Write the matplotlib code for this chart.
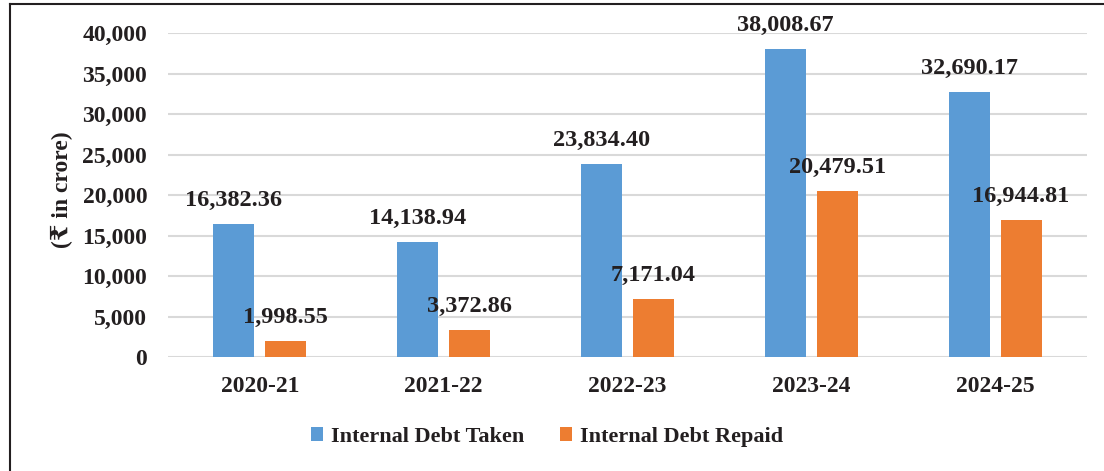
import numpy as np
import matplotlib
matplotlib.use('Agg')
import matplotlib.pyplot as plt
from matplotlib.lines import Line2D

years = ['2020-21', '2021-22', '2022-23', '2023-24', '2024-25']
debt_taken = [16382.36, 14138.94, 23834.40, 38008.67, 32690.17]
debt_repaid = [1998.55, 3372.86, 7171.04, 20479.51, 16944.81]

plt.rcParams['font.family'] = ['Liberation Serif', 'DejaVu Serif']
plt.rcParams['font.weight'] = 'bold'

fig = plt.figure(figsize=(11.04, 4.71), dpi=100)
ax = fig.add_axes([168 / 1104, 1 - 357 / 471, (1087 - 168) / 1104, (357 - 33) / 471])

x = np.arange(len(years))
w = 0.223
off = 0.1415
b1 = ax.bar(x - off, debt_taken, w, color='#5B9BD5', label='Internal Debt Taken', zorder=3)
b2 = ax.bar(x + off, debt_repaid, w, color='#ED7D31', label='Internal Debt Repaid', zorder=3)

for bars, vals in [(b1, debt_taken), (b2, debt_repaid)]:
    for rect, v in zip(bars, vals):
        ax.annotate(f'{v:,.2f}', (rect.get_x() + rect.get_width() / 2, v),
                    xytext=(0, 17), textcoords='offset points',
                    ha='center', va='center', fontsize=17.5, fontweight='bold',
                    color='#231F20', annotation_clip=False, zorder=4)

ax.set_xlim(-0.5, len(years) - 0.5)
ax.set_ylim(0, 40000)
ax.set_yticks(np.arange(0, 40001, 5000))
ax.set_yticklabels([f'{int(t):,}' for t in np.arange(0, 40001, 5000)])
ax.set_xticks(x)
ax.set_xticklabels(years)
ax.tick_params(axis='both', length=0, labelsize=17, colors='#231F20')
ax.tick_params(axis='y', pad=15)
ax.tick_params(axis='x', pad=14)
for lbl in ax.get_xticklabels() + ax.get_yticklabels():
    lbl.set_fontweight('bold')

ax.grid(axis='y', color='#D9D9D9', linewidth=1.5, zorder=0)
ax.set_axisbelow(True)
for s in ax.spines.values():
    s.set_visible(False)

ax.set_ylabel('(₹ in crore)', fontsize=17, fontweight='bold', color='#231F20')
ax.yaxis.set_label_coords(-0.103, 0.515)

leg = fig.legend(loc='center', bbox_to_anchor=(547 / 1104, 1 - 437 / 471), ncol=2,
                 frameon=False, fontsize=16, handlelength=0.55, handleheight=0.55,
                 handletextpad=0.35, columnspacing=1.6)
for t in leg.get_texts():
    t.set_fontweight('bold')
    t.set_color('#231F20')

# outer frame (left and top edges)
fig.add_artist(Line2D([9.5 / 1104, 9.5 / 1104], [0, 1 - 3.5 / 471],
                      transform=fig.transFigure, color='#231F20', linewidth=1.5))
fig.add_artist(Line2D([9.5 / 1104, 1.0], [1 - 3.5 / 471, 1 - 3.5 / 471],
                      transform=fig.transFigure, color='#231F20', linewidth=1.5))

fig.savefig('out.png', dpi=100)
